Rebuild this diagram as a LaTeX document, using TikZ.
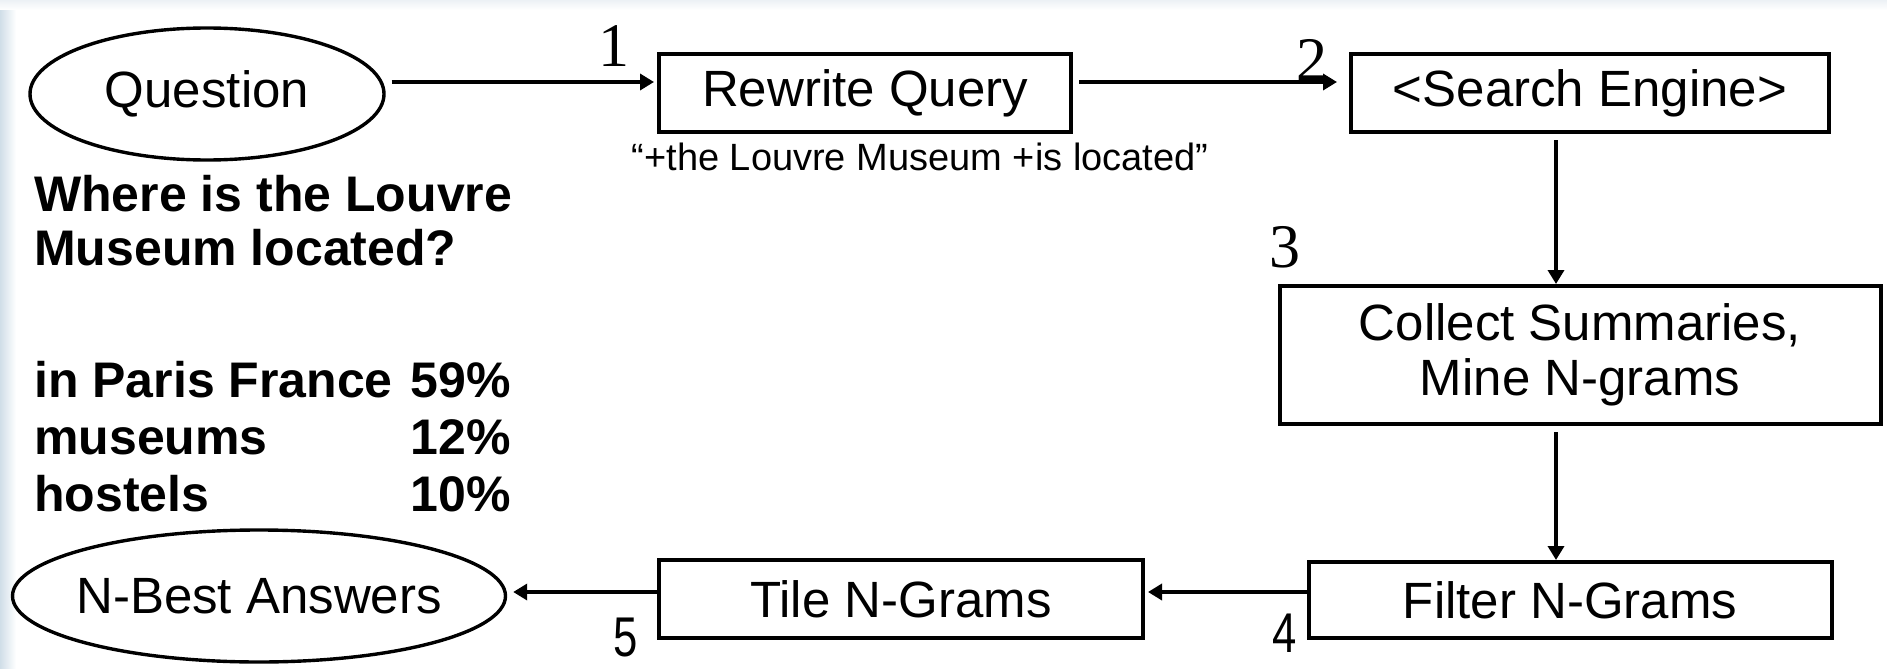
\documentclass[tikz,border=0pt]{standalone}
\usepackage{fontspec}
\setmainfont{Liberation Sans}
\newfontfamily\serifdigits{Liberation Serif}
\usetikzlibrary{shapes.geometric,arrows.meta}
\definecolor{edgeblue}{RGB}{208,222,232}
\definecolor{topgray}{RGB}{236,241,245}
\begin{document}
\begin{tikzpicture}[x=1pt,y=-1pt,
  boxtxt/.style={font=\fontsize{51}{55}\selectfont},
  stepbox/.style={draw, line width=4pt, inner sep=0pt, align=center, boxtxt},
  ell/.style={draw, ellipse, line width=3.4pt, inner sep=0pt, boxtxt},
  arr/.style={line width=3.5pt, -{Triangle[length=14pt,width=16pt]}},
  num/.style={font=\serifdigits\fontsize{62}{62}\selectfont, inner sep=0pt},
  numsans/.style={font=\fontsize{56}{56}\selectfont, inner sep=0pt, xscale=0.78},
  bold/.style={font=\bfseries\fontsize{50}{54}\selectfont, inner sep=0pt},
  quote/.style={font=\fontsize{38}{40}\selectfont, inner sep=0pt}]
\useasboundingbox (0,0) rectangle (1887,669);
\fill[white] (0,0) rectangle (1887,669);
\shade[left color=edgeblue, right color=white] (0,0) rectangle (16,669);
\shade[top color=topgray, bottom color=white] (0,0) rectangle (1887,10);

% nodes
\node[ell, minimum width=354pt, minimum height=132pt] (q) at (207,94) {\makebox[0pt]{Question}};
\node[stepbox, minimum width=412pt, minimum height=78pt] (r) at (865,93) {Rewrite Query};
\node[stepbox, minimum width=478pt, minimum height=78pt] (s) at (1590,93) {<Search Engine>};
\node[stepbox, minimum width=601pt, minimum height=138pt] (c) at (1580,355) {Collect Summaries,\\Mine N-grams};
\node[stepbox, minimum width=523pt, minimum height=76pt] (f) at (1570,600) {Filter N-Grams};
\node[stepbox, minimum width=484pt, minimum height=78pt] (t) at (901,599) {Tile N-Grams};
\node[ell, minimum width=493pt, minimum height=132pt] (n) at (259,596) {\makebox[0pt]{N-Best Answers}};

% quote
\node[quote, anchor=base] (qt) at (920,170) {“+the Louvre Museum +is located”};

% bold texts
\node[bold, anchor=base west] (w1) at (34,211) {Where is the Louvre};
\node[bold, anchor=base west] (w2) at (34,265) {Museum located?};
\node[bold, anchor=base west] (a1) at (34,397) {in Paris France};
\node[bold, anchor=base west] (a2) at (34,454) {museums};
\node[bold, anchor=base west] (a3) at (34,511) {hostels};
\node[bold, anchor=base east] (p1) at (511,397) {59\%};
\node[bold, anchor=base east] (p2) at (511,454) {12\%};
\node[bold, anchor=base east] (p3) at (511,511) {10\%};

% step numbers
\node[num] (n1) at (614,46) {1};
\node[num] (n2) at (1312,60) {2};
\node[num] (n3) at (1285,247) {3};
\node[numsans] (n4) at (1285,633) {4};
\node[numsans] (n5) at (626,638) {5};

% connectors
\coordinate (ht) at (0,82);
\coordinate (v) at (1556,0);
\coordinate (hb) at (0,592);
\draw[arr, shorten <=6pt, shorten >=3pt] (q.east |- ht) -- (r.west |- ht);
\draw[arr, shorten <=6pt, shorten >=12pt] (r.east |- ht) -- (s.west |- ht);
\draw[arr, shorten <=6pt] (s.south -| v) -- (c.north -| v);
\draw[arr, shorten <=6pt] (c.south -| v) -- (f.north -| v);
\draw[arr, shorten >=3pt] (f.west |- hb) -- (t.east |- hb);
\draw[arr, shorten >=6pt] (t.west |- hb) -- (n.east |- hb);
\end{tikzpicture}
\end{document}
